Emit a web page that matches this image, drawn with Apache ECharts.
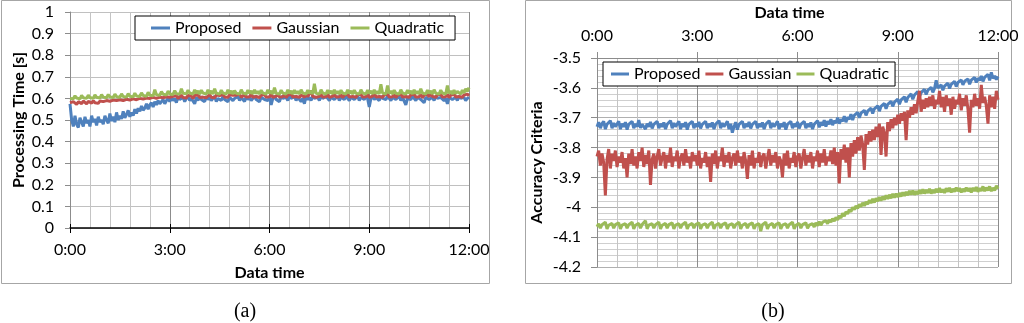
<!DOCTYPE html>
<html><head><meta charset="utf-8">
<script src="https://cdn.jsdelivr.net/npm/echarts@6/dist/echarts.min.js"></script>
<style>html,body{margin:0;padding:0;background:#fff}#c{width:1024px;height:323px}</style>
</head><body><div id="c"></div>
<script>
// time of each sample in hours (every 3 minutes, 0:00 .. 12:00)
const timesH = Array.from({length:241}, (_, i) => i / 20);
const seriesNames = ['Proposed', 'Gaussian', 'Quadratic'];
const xTickHours = [0, 3, 6, 9, 12];

// (a) Processing Time [s]  (one row = one hour)
const procProposed = [
0.575,0.50,0.47,0.52,0.48,0.465,0.51,0.49,0.47,0.515,0.485,0.50,0.47,0.52,0.49,0.505,0.475,0.515,0.49,0.50,
0.48,0.52,0.50,0.485,0.53,0.495,0.515,0.49,0.535,0.50,0.52,0.505,0.54,0.51,0.525,0.545,0.515,0.535,0.52,0.55,
0.53,0.555,0.54,0.565,0.545,0.555,0.575,0.55,0.57,0.58,0.56,0.585,0.57,0.59,0.575,0.585,0.595,0.575,0.59,0.60,
0.585,0.605,0.59,0.60,0.58,0.61,0.595,0.59,0.605,0.585,0.60,0.61,0.59,0.60,0.595,0.575,0.605,0.59,0.61,0.595,
0.60,0.585,0.61,0.595,0.605,0.59,0.60,0.61,0.585,0.60,0.605,0.59,0.61,0.595,0.60,0.585,0.605,0.61,0.59,0.60,
0.595,0.61,0.59,0.605,0.60,0.585,0.61,0.595,0.605,0.59,0.60,0.61,0.595,0.60,0.585,0.605,0.61,0.595,0.60,0.59,
0.605,0.57,0.60,0.61,0.595,0.60,0.585,0.61,0.60,0.595,0.605,0.59,0.61,0.60,0.595,0.61,0.59,0.605,0.60,0.585,
0.60,0.575,0.61,0.595,0.605,0.59,0.61,0.60,0.595,0.605,0.59,0.61,0.60,0.595,0.61,0.60,0.59,0.605,0.61,0.595,
0.60,0.61,0.59,0.605,0.60,0.595,0.61,0.60,0.59,0.605,0.61,0.595,0.60,0.61,0.59,0.605,0.60,0.595,0.61,0.60,
0.56,0.60,0.61,0.595,0.605,0.60,0.59,0.61,0.60,0.605,0.595,0.61,0.60,0.59,0.605,0.61,0.595,0.60,0.61,0.59,
0.605,0.61,0.57,0.60,0.605,0.595,0.61,0.60,0.59,0.605,0.61,0.595,0.60,0.58,0.605,0.61,0.595,0.60,0.605,0.59,
0.61,0.60,0.595,0.605,0.61,0.59,0.60,0.575,0.605,0.61,0.595,0.60,0.605,0.59,0.61,0.60,0.595,0.605,0.59,0.60,
0.605];
const procGaussian = [
0.58,0.575,0.585,0.578,0.572,0.585,0.58,0.576,0.588,0.58,0.575,0.586,0.58,0.578,0.59,0.58,0.584,0.577,0.588,0.582,
0.585,0.578,0.59,0.583,0.587,0.58,0.592,0.585,0.59,0.582,0.594,0.586,0.59,0.584,0.596,0.588,0.592,0.586,0.598,0.59,
0.594,0.588,0.60,0.592,0.597,0.59,0.602,0.595,0.60,0.593,0.605,0.597,0.60,0.594,0.606,0.598,0.603,0.596,0.608,0.60,
0.605,0.598,0.61,0.603,0.612,0.60,0.608,0.615,0.604,0.61,0.602,0.614,0.606,0.61,0.60,0.613,0.607,0.616,0.604,0.61,
0.606,0.615,0.603,0.612,0.618,0.605,0.61,0.603,0.616,0.608,0.613,0.604,0.618,0.607,0.612,0.605,0.617,0.609,0.614,0.606,
0.615,0.607,0.62,0.605,0.612,0.618,0.606,0.614,0.608,0.62,0.605,0.613,0.609,0.617,0.604,0.615,0.61,0.618,0.606,0.613,
0.608,0.618,0.605,0.614,0.61,0.62,0.606,0.615,0.608,0.618,0.604,0.614,0.61,0.62,0.607,0.613,0.609,0.618,0.605,0.616,
0.61,0.605,0.618,0.608,0.614,0.636,0.609,0.617,0.605,0.613,0.61,0.62,0.606,0.615,0.608,0.618,0.605,0.614,0.61,0.62,
0.606,0.615,0.608,0.618,0.604,0.614,0.61,0.62,0.607,0.613,0.609,0.618,0.605,0.616,0.61,0.62,0.606,0.615,0.608,0.618,
0.605,0.614,0.61,0.625,0.607,0.613,0.609,0.618,0.605,0.616,0.61,0.62,0.606,0.615,0.608,0.618,0.604,0.614,0.61,0.62,
0.607,0.613,0.609,0.618,0.605,0.616,0.61,0.62,0.606,0.615,0.608,0.618,0.604,0.614,0.61,0.62,0.607,0.63,0.609,0.618,
0.605,0.616,0.61,0.62,0.606,0.615,0.608,0.618,0.604,0.614,0.61,0.62,0.607,0.613,0.609,0.618,0.605,0.616,0.61,0.62,
0.612];
const procQuadratic = [
0.60,0.607,0.598,0.612,0.602,0.608,0.598,0.614,0.603,0.609,0.60,0.615,0.604,0.61,0.60,0.616,0.605,0.611,0.602,0.617,
0.606,0.612,0.603,0.618,0.607,0.613,0.604,0.62,0.608,0.614,0.605,0.621,0.609,0.615,0.606,0.622,0.61,0.616,0.607,0.624,
0.611,0.618,0.609,0.626,0.613,0.62,0.61,0.628,0.615,0.622,0.612,0.64,0.617,0.624,0.614,0.632,0.619,0.626,0.616,0.634,
0.62,0.628,0.618,0.636,0.622,0.63,0.62,0.645,0.624,0.632,0.621,0.638,0.625,0.633,0.62,0.64,0.623,0.635,0.62,0.638,
0.625,0.633,0.62,0.64,0.622,0.635,0.62,0.645,0.624,0.632,0.62,0.638,0.625,0.633,0.62,0.64,0.623,0.635,0.62,0.636,
0.624,0.632,0.62,0.64,0.625,0.633,0.62,0.638,0.623,0.635,0.62,0.64,0.622,0.633,0.62,0.638,0.625,0.632,0.62,0.64,
0.623,0.635,0.62,0.65,0.624,0.632,0.62,0.638,0.625,0.633,0.62,0.64,0.623,0.635,0.62,0.638,0.622,0.633,0.62,0.64,
0.625,0.632,0.62,0.638,0.623,0.635,0.62,0.668,0.624,0.632,0.62,0.64,0.625,0.633,0.62,0.638,0.623,0.635,0.62,0.64,
0.622,0.633,0.62,0.638,0.625,0.632,0.62,0.64,0.623,0.635,0.62,0.638,0.624,0.632,0.62,0.64,0.625,0.633,0.62,0.638,
0.623,0.635,0.62,0.64,0.622,0.633,0.62,0.665,0.625,0.632,0.62,0.66,0.623,0.635,0.62,0.638,0.624,0.632,0.62,0.64,
0.625,0.633,0.62,0.638,0.623,0.635,0.62,0.64,0.622,0.633,0.62,0.645,0.625,0.632,0.62,0.638,0.623,0.635,0.62,0.64,
0.624,0.632,0.62,0.638,0.625,0.633,0.62,0.66,0.623,0.635,0.62,0.638,0.622,0.633,0.64,0.62,0.638,0.625,0.645,0.632,
0.65];

// (b) Accuracy Criteria  (one row = one hour)
const accProposed = [
-3.73,-3.715,-3.735,-3.72,-3.712,-3.738,-3.722,-3.728,-3.71,-3.735,-3.718,-3.73,-3.725,-3.712,-3.738,-3.72,-3.73,-3.715,-3.74,-3.722,
-3.728,-3.712,-3.735,-3.72,-3.73,-3.708,-3.734,-3.722,-3.716,-3.738,-3.72,-3.73,-3.714,-3.736,-3.722,-3.728,-3.712,-3.735,-3.72,-3.73,
-3.716,-3.738,-3.722,-3.728,-3.71,-3.735,-3.718,-3.73,-3.725,-3.712,-3.738,-3.72,-3.73,-3.715,-3.74,-3.722,-3.728,-3.712,-3.735,-3.72,
-3.73,-3.714,-3.736,-3.722,-3.728,-3.712,-3.735,-3.72,-3.73,-3.716,-3.738,-3.722,-3.728,-3.71,-3.735,-3.718,-3.73,-3.725,-3.712,-3.738,
-3.72,-3.75,-3.73,-3.715,-3.74,-3.722,-3.728,-3.712,-3.735,-3.72,-3.73,-3.714,-3.736,-3.722,-3.728,-3.712,-3.735,-3.72,-3.73,-3.716,
-3.738,-3.722,-3.728,-3.71,-3.735,-3.718,-3.73,-3.725,-3.712,-3.738,-3.72,-3.73,-3.715,-3.74,-3.722,-3.728,-3.712,-3.735,-3.72,-3.73,
-3.714,-3.736,-3.722,-3.728,-3.712,-3.735,-3.72,-3.73,-3.716,-3.738,-3.722,-3.728,-3.71,-3.732,-3.715,-3.726,-3.708,-3.73,-3.712,-3.722,
-3.705,-3.725,-3.71,-3.718,-3.70,-3.72,-3.705,-3.712,-3.695,-3.715,-3.698,-3.705,-3.688,-3.708,-3.692,-3.698,-3.682,-3.70,-3.685,-3.69,
-3.675,-3.692,-3.678,-3.684,-3.668,-3.686,-3.67,-3.676,-3.66,-3.678,-3.662,-3.668,-3.652,-3.67,-3.655,-3.66,-3.645,-3.662,-3.648,-3.652,
-3.638,-3.655,-3.64,-3.645,-3.63,-3.648,-3.632,-3.636,-3.62,-3.638,-3.624,-3.628,-3.612,-3.63,-3.616,-3.62,-3.605,-3.622,-3.608,-3.612,
-3.598,-3.615,-3.602,-3.575,-3.60,-3.605,-3.59,-3.608,-3.594,-3.598,-3.584,-3.602,-3.588,-3.592,-3.578,-3.596,-3.582,-3.588,-3.574,-3.59,
-3.578,-3.584,-3.57,-3.588,-3.574,-3.58,-3.565,-3.582,-3.568,-3.575,-3.56,-3.578,-3.565,-3.57,-3.555,-3.575,-3.548,-3.568,-3.56,-3.572,
-3.562];
const accGaussian = [
-3.83,-3.81,-3.86,-3.82,-3.85,-3.96,-3.84,-3.805,-3.87,-3.82,-3.845,-3.81,-3.865,-3.83,-3.85,-3.815,-3.87,-3.835,-3.90,-3.82,
-3.855,-3.805,-3.86,-3.83,-3.87,-3.815,-3.845,-3.80,-3.865,-3.825,-3.855,-3.81,-3.925,-3.84,-3.82,-3.87,-3.83,-3.805,-3.86,-3.835,
-3.815,-3.87,-3.825,-3.85,-3.80,-3.865,-3.83,-3.845,-3.81,-3.87,-3.835,-3.82,-3.86,-3.805,-3.85,-3.83,-3.87,-3.815,-3.845,-3.825,
-3.86,-3.81,-3.87,-3.835,-3.85,-3.815,-3.865,-3.83,-3.915,-3.82,-3.855,-3.81,-3.87,-3.83,-3.845,-3.80,-3.865,-3.825,-3.85,-3.815,
-3.87,-3.835,-3.82,-3.86,-3.81,-3.85,-3.83,-3.87,-3.815,-3.845,-3.905,-3.825,-3.86,-3.81,-3.87,-3.835,-3.85,-3.815,-3.865,-3.83,
-3.82,-3.87,-3.835,-3.805,-3.86,-3.825,-3.85,-3.815,-3.87,-3.83,-3.845,-3.90,-3.82,-3.86,-3.81,-3.87,-3.835,-3.85,-3.815,-3.865,
-3.83,-3.82,-3.87,-3.835,-3.805,-3.86,-3.825,-3.85,-3.815,-3.87,-3.83,-3.845,-3.81,-3.865,-3.82,-3.85,-3.805,-3.86,-3.83,-3.845,
-3.81,-3.855,-3.80,-3.86,-3.815,-3.92,-3.805,-3.84,-3.79,-3.85,-3.80,-3.90,-3.785,-3.83,-3.775,-3.82,-3.765,-3.81,-3.76,-3.79,
-3.875,-3.755,-3.79,-3.745,-3.78,-3.74,-3.775,-3.73,-3.765,-3.72,-3.825,-3.73,-3.75,-3.83,-3.715,-3.745,-3.705,-3.735,-3.70,-3.725,
-3.69,-3.72,-3.685,-3.71,-3.68,-3.775,-3.675,-3.70,-3.665,-3.69,-3.655,-3.685,-3.645,-3.61,-3.68,-3.64,-3.67,-3.635,-3.665,-3.63,
-3.66,-3.625,-3.67,-3.64,-3.655,-3.61,-3.665,-3.63,-3.68,-3.625,-3.66,-3.635,-3.69,-3.63,-3.67,-3.64,-3.655,-3.62,-3.675,-3.635,
-3.66,-3.625,-3.67,-3.75,-3.64,-3.665,-3.62,-3.66,-3.635,-3.67,-3.59,-3.65,-3.63,-3.66,-3.72,-3.625,-3.665,-3.63,-3.67,-3.61,
-3.64];
const accQuadratic = [
-4.065,-4.055,-4.07,-4.058,-4.062,-4.05,-4.072,-4.06,-4.066,-4.054,-4.07,-4.058,-4.064,-4.052,-4.072,-4.06,-4.066,-4.055,-4.07,-4.058,
-4.062,-4.05,-4.072,-4.06,-4.066,-4.054,-4.07,-4.058,-4.064,-4.045,-4.072,-4.06,-4.066,-4.055,-4.07,-4.058,-4.062,-4.05,-4.072,-4.06,
-4.066,-4.054,-4.07,-4.058,-4.064,-4.052,-4.072,-4.06,-4.066,-4.055,-4.07,-4.058,-4.062,-4.05,-4.072,-4.06,-4.066,-4.054,-4.07,-4.058,
-4.064,-4.052,-4.072,-4.06,-4.066,-4.055,-4.07,-4.058,-4.062,-4.05,-4.072,-4.06,-4.066,-4.054,-4.07,-4.058,-4.064,-4.052,-4.072,-4.06,
-4.066,-4.055,-4.07,-4.058,-4.062,-4.05,-4.072,-4.06,-4.066,-4.054,-4.07,-4.058,-4.064,-4.052,-4.072,-4.06,-4.066,-4.055,-4.08,-4.058,
-4.062,-4.05,-4.072,-4.06,-4.066,-4.054,-4.07,-4.058,-4.064,-4.052,-4.072,-4.06,-4.066,-4.055,-4.07,-4.058,-4.062,-4.05,-4.072,-4.06,
-4.066,-4.054,-4.07,-4.058,-4.064,-4.052,-4.07,-4.06,-4.064,-4.055,-4.066,-4.052,-4.062,-4.048,-4.06,-4.05,-4.056,-4.045,-4.055,-4.042,
-4.05,-4.038,-4.046,-4.034,-4.042,-4.028,-4.036,-4.02,-4.03,-4.015,-4.022,-4.008,-4.015,-4.00,-4.008,-3.995,-4.004,-3.99,-3.998,-3.985,
-3.995,-3.982,-3.99,-3.976,-3.986,-3.972,-3.984,-3.97,-3.98,-3.966,-3.978,-3.964,-3.975,-3.96,-3.972,-3.958,-3.97,-3.955,-3.968,-3.954,
-3.966,-3.952,-3.964,-3.95,-3.962,-3.948,-3.96,-3.945,-3.958,-3.944,-3.958,-3.946,-3.956,-3.942,-3.955,-3.94,-3.954,-3.942,-3.952,-3.938,
-3.954,-3.942,-3.952,-3.938,-3.95,-3.936,-3.95,-3.94,-3.952,-3.936,-3.948,-3.935,-3.95,-3.938,-3.948,-3.934,-3.946,-3.936,-3.95,-3.938,
-3.948,-3.934,-3.946,-3.936,-3.95,-3.935,-3.946,-3.932,-3.948,-3.936,-3.945,-3.93,-3.946,-3.934,-3.944,-3.93,-3.946,-3.935,-3.944,-3.928,
-3.938];

const colors = ['#4F81BD', '#C0504D', '#9BBB59'];
const FONT = 'Lato';
const pair = arr => arr.map((v, i) => [timesH[i], v]);
const timeFmt = v => (xTickHours.indexOf(v) >= 0 ? v + ':00' : '');

const chart = echarts.init(document.getElementById('c'), null, {renderer: 'canvas'});
const lineSeries = (name, data, xi, yi, color) => ({
  name, type: 'line', data: pair(data), xAxisIndex: xi, yAxisIndex: yi,
  showSymbol: false, symbol: 'none', animation: false, z: 3,
  lineStyle: {color, width: 3}, itemStyle: {color}
});

const legendCommon = {
  backgroundColor: '#fff', borderColor: '#000', borderWidth: 1,
  icon: 'rect', itemHeight: 3,
  textStyle: {fontFamily: FONT, fontSize: 16, color: '#000'},
  data: seriesNames, z: 10
};
const nameStyle = {fontFamily: FONT, fontSize: 16, fontWeight: 'bold', color: '#000'};
const labelStyle = {fontFamily: FONT, fontSize: 16, color: '#000'};

chart.setOption({
  animation: false,
  color: colors,
  textStyle: {fontFamily: FONT},
  grid: [
    {left: 70, top: 12, width: 399, height: 216, containLabel: false},
    {left: 597, top: 58, width: 401, height: 209, containLabel: false}
  ],
  legend: [
    Object.assign({}, legendCommon, {left: 135, top: 16, itemWidth: 19, padding: [4, 11, 4, 16], itemGap: 11}),
    Object.assign({}, legendCommon, {left: 603, top: 62, itemWidth: 18, padding: [4, 6, 4, 8], itemGap: 5})
  ],
  xAxis: [
    {gridIndex: 0, type: 'value', min: 0, max: 12, interval: 3,
     name: 'Data time', nameLocation: 'middle', nameGap: 37, nameTextStyle: nameStyle,
     axisLine: {show: true, onZero: false, lineStyle: {color: '#000', width: 1.5}},
     axisTick: {show: true, length: 5, lineStyle: {color: '#000'}},
     axisLabel: Object.assign({formatter: timeFmt, margin: 14}, labelStyle),
     splitLine: {show: true, lineStyle: {color: '#8c8c8c', width: 1}},
     minorTick: {show: false, splitNumber: 5},
     minorSplitLine: {show: true, lineStyle: {color: '#c4c4c4', width: 1}}
    },
    {gridIndex: 0, type: 'value', min: 0, max: 12, interval: 3, position: 'bottom',
     axisLine: {show: false}, axisLabel: {show: false}, splitLine: {show: false},
     axisTick: {show: true, inside: true, length: 4, lineStyle: {color: '#000'}}
    },
    {gridIndex: 1, type: 'value', min: 0, max: 12, interval: 3, position: 'top',
     name: 'Data time', nameLocation: 'middle', nameGap: 37,
     nameTextStyle: Object.assign({padding: [0, 16, 0, 0]}, nameStyle),
     axisLine: {show: true, onZero: false, lineStyle: {color: '#8c8c8c', width: 1}},
     axisTick: {show: true, length: 6, lineStyle: {color: '#8c8c8c'}},
     axisLabel: Object.assign({formatter: timeFmt, margin: 14}, labelStyle),
     splitLine: {show: true, lineStyle: {color: '#8c8c8c', width: 1}},
     minorTick: {show: false, splitNumber: 5},
     minorSplitLine: {show: true, lineStyle: {color: '#c4c4c4', width: 1}}
    }
  ],
  yAxis: [
    {gridIndex: 0, type: 'value', min: 0, max: 1, interval: 0.1,
     name: 'Processing Time [s]', nameLocation: 'middle', nameGap: 43, nameTextStyle: nameStyle,
     axisLine: {show: true, lineStyle: {color: '#8c8c8c'}},
     axisTick: {show: true, length: 5, lineStyle: {color: '#8c8c8c'}},
     axisLabel: Object.assign({margin: 16}, labelStyle),
     splitLine: {show: true, lineStyle: {color: '#c0c0c0', width: 1}}
    },
    {gridIndex: 1, type: 'value', min: -4.2, max: -3.5, interval: 0.1,
     name: 'Accuracy Criteria', nameLocation: 'middle', nameGap: 52, nameTextStyle: nameStyle,
     axisLine: {show: true, lineStyle: {color: '#8c8c8c'}},
     axisTick: {show: true, length: 6, lineStyle: {color: '#8c8c8c'}},
     axisLabel: Object.assign({margin: 16, formatter: v => String(Math.round(v * 10) / 10)}, labelStyle),
     splitLine: {show: true, lineStyle: {color: '#b0b0b0', width: 1}},
     minorTick: {show: false, splitNumber: 5},
     minorSplitLine: {show: true, lineStyle: {color: '#cfcfcf', width: 1}}
    }
  ],
  series: [
    lineSeries('Proposed', procProposed, 0, 0, colors[0]),
    lineSeries('Gaussian', procGaussian, 0, 0, colors[1]),
    lineSeries('Quadratic', procQuadratic, 0, 0, colors[2]),
    lineSeries('Proposed', accProposed, 2, 1, colors[0]),
    lineSeries('Gaussian', accGaussian, 2, 1, colors[1]),
    lineSeries('Quadratic', accQuadratic, 2, 1, colors[2])
  ],
  graphic: [
    {type: 'rect', shape: {x: 1.5, y: 0.5, width: 488, height: 283}, style: {fill: 'none', stroke: '#a6a6a6', lineWidth: 1}, silent: true},
    {type: 'rect', shape: {x: 525.5, y: 0.5, width: 486, height: 283}, style: {fill: 'none', stroke: '#a6a6a6', lineWidth: 1}, silent: true},
    {type: 'text', style: {text: '(a)', x: 245, y: 312, fontFamily: 'Liberation Serif', fontSize: 20, fill: '#000', textAlign: 'center', textVerticalAlign: 'middle'}},
    {type: 'text', style: {text: '(b)', x: 773, y: 312, fontFamily: 'Liberation Serif', fontSize: 20, fill: '#000', textAlign: 'center', textVerticalAlign: 'middle'}}
  ]
});
</script></body></html>
